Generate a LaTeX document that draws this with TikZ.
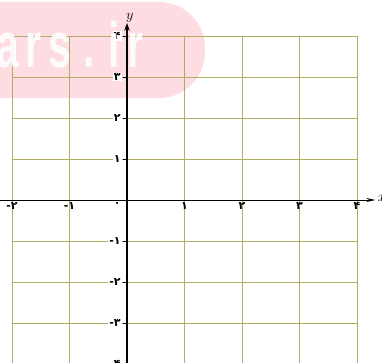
\documentclass[tikz,border=0pt]{standalone}
\usepackage{fontspec}
\newfontfamily\fa{DejaVu Sans}
\newfontfamily\wmfont{Liberation Sans}
\usetikzlibrary{arrows.meta}
\definecolor{gridc}{RGB}{176,174,100}
\definecolor{wmpink}{RGB}{253,220,226}
\begin{document}
\begin{tikzpicture}[x=57.5pt,y=41pt,
  gridline/.style={gridc,line width=0.9pt},
  axisline/.style={black,line width=1pt},
  ylab/.style={font=\fa\bfseries\fontsize{11}{12}\selectfont,fill=white,inner sep=1pt,anchor=east},
  xlab/.style={font=\fa\bfseries\fontsize{11}{12}\selectfont,inner sep=0.5pt,anchor=north},
  wm/.style={fill=wmpink,rounded corners=46pt},
  wmletter/.style={white,opacity=0.9,anchor=base west,inner sep=0pt,xscale=0.64,font=\wmfont\bfseries\fontsize{64}{64}\selectfont}]
\useasboundingbox (-2.2087,-3.9512) rectangle (4.4348,4.8780);
% watermark background
\fill[wm] (-3,4.83) rectangle (1.357,2.488);
% grid
\foreach \i in {-2,...,4} \draw[gridline] (\i,-4.2) -- (\i,4);
\foreach \j in {-4,...,4} \draw[gridline] (-2,\j) -- (4,\j);
% axes
\coordinate (xs) at (-2.2,0);
\coordinate (xe) at (4.32,0);
\coordinate (ys) at (0,-4.2);
\coordinate (ye) at (0,4.32);
\draw[axisline,-{Stealth[length=9pt,width=4pt]}] (xs) -- (xe);
\draw[axisline,line width=1.5pt,-{Stealth[length=8pt,width=5.5pt]}] (ys) -- (ye);
\node[anchor=west,inner sep=0pt,font=\Large] (xl) at (4.36,0.05) {$x$};
\node[anchor=south,inner sep=0pt,font=\Large] (yl) at (0.05,4.34) {$y$};
% y ticks and labels
\foreach \j/\t in {4/۴,3/۳,2/۲,1/۱,-1/-۱,-2/-۲,-3/-۳,-4/-۴} {
  \draw[black,line width=0.8pt] (-0.07,\j) -- (0,\j);
  \node[ylab] (yt\j) at (-0.09,\j) {\t};
}
% x labels
\foreach \i/\t in {-2/-۲,-1/-۱,1/۱,2/۲,3/۳,4/۴} {
  \node[xlab] (xt\i) at (\i,-0.05) {\t};
}
\node[xlab] (x0) at (-0.17,-0.05) {۰};
% watermark text
\node[wmletter] (w1) at (-2.27,3.22) {a};
\node[wmletter] (w2) at (-1.76,3.22) {r};
\node[wmletter] (w3) at (-1.36,3.22) {s};
\node[wmletter] (w4) at (-0.76,3.22) {.};
\node[wmletter] (w5) at (-0.33,3.22) {i};
\node[wmletter] (w6) at (0.0,3.22) {r};
\end{tikzpicture}
\end{document}
